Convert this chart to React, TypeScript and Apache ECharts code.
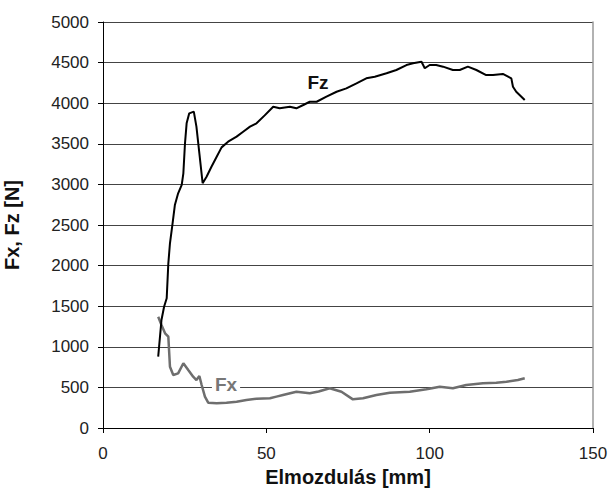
import React, { useEffect, useRef } from "react";
import * as echarts from "echarts";

const fzX = [16.9, 17.9, 18.7, 19.5, 20.0, 20.5, 21.3, 22.0, 23.0, 24.1, 24.6, 25.1, 25.6, 26.4, 27.8, 28.6, 29.5, 30.5, 31.7, 33.2, 34.8, 36.3, 38.3, 40.9, 42.9, 45, 47, 49.5, 52.1, 54.1, 57.2, 59.2, 61.3, 63.3, 65.4, 68.4, 71.5, 74.5, 77.6, 80.6, 83.2, 86.8, 89.8, 92.9, 94.9, 97.5, 98.5, 100, 102, 104.1, 107.1, 109.2, 111.7, 114.3, 117.3, 119.4, 122.4, 125, 125.5, 126.5, 129.1];
const fzY = [878, 1330, 1494, 1597, 2028, 2275, 2521, 2746, 2890, 2993, 3137, 3506, 3752, 3875, 3896, 3711, 3383, 3014, 3095, 3218, 3341, 3456, 3526, 3588, 3649, 3711, 3752, 3850, 3957, 3937, 3957, 3937, 3978, 4018, 4018, 4080, 4141, 4183, 4245, 4306, 4326, 4368, 4409, 4470, 4491, 4511, 4430, 4470, 4470, 4450, 4409, 4409, 4450, 4409, 4347, 4347, 4360, 4306, 4203, 4141, 4039];

const fxX = [16.9, 17.9, 19.0, 20.0, 20.5, 21.5, 23, 24.6, 26.1, 27.6, 28.6, 29.5, 30.2, 31.2, 32.2, 34.8, 37.8, 40.9, 43.9, 47, 51.1, 53.1, 55.1, 59.2, 63.3, 66, 69.4, 73, 76.5, 79.6, 83.7, 87.8, 93.9, 99, 103.1, 107.1, 111.2, 116.3, 120.4, 123.5, 127, 129.1];
const fxY = [1371, 1268, 1166, 1124, 755, 653, 673, 797, 714, 632, 591, 640, 530, 386, 312, 304, 312, 324, 345, 360, 366, 386, 406, 447, 427, 450, 489, 447, 353, 366, 406, 435, 447, 476, 509, 489, 530, 550, 558, 570, 591, 612];

const xTicks = { min: 0, max: 150, interval: 50 };
const yTicks = { min: 0, max: 5000, interval: 500 };

export default function App() {
  const ref = useRef<HTMLDivElement>(null);
  useEffect(() => {
    if (!ref.current) return;
    const chart = echarts.init(ref.current, undefined, { renderer: "svg" });
    const font = "Liberation Sans, Arial, sans-serif";
    const fmt = (v: number) => String(v);
    chart.setOption({
      animation: false,
      backgroundColor: "#fff",
      grid: { left: 103, right: 19, top: 22, bottom: 62, containLabel: false, outerBoundsMode: "none" },
      xAxis: {
        type: "value",
        min: xTicks.min,
        max: xTicks.max,
        interval: xTicks.interval,
        name: "Elmozdulás [mm]",
        nameLocation: "middle",
        nameGap: 32,
        nameTextStyle: { fontFamily: font, fontSize: 20, fontWeight: "bold", color: "#111" },
        axisLine: { show: true, onZero: false, lineStyle: { color: "#000", width: 1 } },
        axisTick: { show: true, inside: false, length: 5, lineStyle: { color: "#000" } },
        axisLabel: { fontFamily: font, fontSize: 17, color: "#222", margin: 17, formatter: fmt },
        splitLine: { show: false },
      },
      yAxis: [
        {
          type: "value",
          min: yTicks.min,
          max: yTicks.max,
          interval: yTicks.interval,
          name: "Fx, Fz [N]",
          nameLocation: "middle",
          nameGap: 81,
          nameTextStyle: { fontFamily: font, fontSize: 20, fontWeight: "bold", color: "#111" },
          axisLine: { show: true, lineStyle: { color: "#000", width: 1 } },
          axisTick: { show: true, inside: false, length: 5, lineStyle: { color: "#000" } },
          axisLabel: { fontFamily: font, fontSize: 17, color: "#222", margin: 14, formatter: fmt },
          splitLine: { show: true, lineStyle: { color: "#444", width: 1 } },
        },
        {
          type: "value",
          position: "right",
          min: yTicks.min,
          max: yTicks.max,
          interval: yTicks.interval,
          axisLine: { show: true, lineStyle: { color: "#999", width: 1.5 } },
          axisTick: { show: false },
          axisLabel: { show: false },
          splitLine: { show: false },
        },
      ],
      series: [
        {
          name: "Fz",
          type: "line",
          data: fzX.map((x, i) => [x, fzY[i]]),
          showSymbol: false,
          symbol: "none",
          lineStyle: { color: "#000", width: 2 },
          z: 3,
        },
        {
          name: "Fx",
          type: "line",
          data: fxX.map((x, i) => [x, fxY[i]]),
          showSymbol: false,
          symbol: "none",
          lineStyle: { color: "#6e6e6e", width: 2.5 },
          z: 2,
        },
      ],
      graphic: [
        {
          type: "text",
          x: 318,
          y: 82,
          z: 10,
          style: {
            text: "Fz",
            fontFamily: font,
            fontSize: 19,
            fontWeight: "bold",
            fill: "#111",
            align: "center",
            verticalAlign: "middle",
          },
        },
        {
          type: "text",
          x: 226,
          y: 384,
          z: 10,
          style: {
            text: "Fx",
            fontFamily: font,
            fontSize: 19,
            fontWeight: "bold",
            fill: "#777",
            align: "center",
            verticalAlign: "middle",
            backgroundColor: "#fff",
            padding: [2, 3],
          },
        },
      ],
    });
    return () => chart.dispose();
  }, []);
  return <div ref={ref} style={{ width: 612, height: 490, position: "absolute", left: 0, top: 0 }} />;
}
